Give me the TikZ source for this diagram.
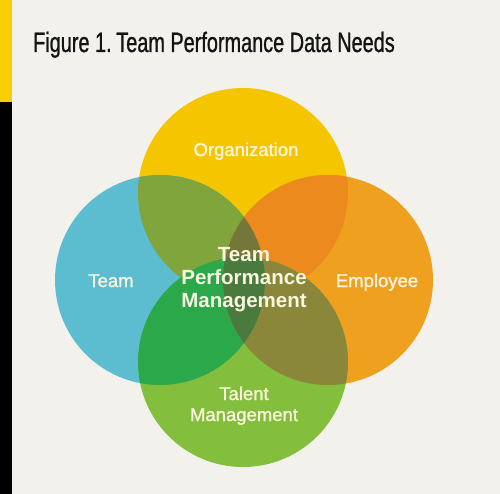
\documentclass[tikz,border=0pt]{standalone}
\usepackage{fontspec}
\setmainfont{Liberation Sans}
\newfontfamily\titlefont[FakeStretch=0.71,FakeBold=0.9]{Liberation Sans}
\newfontfamily\setfont[FakeBold=1.1]{Liberation Sans}
\definecolor{paper}{HTML}{F2F1EC}
\definecolor{baryellow}{HTML}{F7CF00}
\definecolor{orgyellow}{HTML}{F5C600}
\definecolor{teamblue}{HTML}{5DBDD0}
\definecolor{emporange}{HTML}{F0A01F}
\definecolor{talentgreen}{HTML}{84BE3D}
\definecolor{orgteam}{HTML}{80A53C}
\definecolor{orgemp}{HTML}{EC8A1E}
\definecolor{orgteamemp}{HTML}{74763A}
\definecolor{talteam}{HTML}{2AA84A}
\definecolor{talemp}{HTML}{8B873A}
\definecolor{talteamemp}{HTML}{4B7A3E}
\definecolor{setcream}{HTML}{FAF6DF}
\def\vrad{105}
\tikzset{
  setname/.style={text=setcream,font=\setfont\fontsize{18.5}{21}\selectfont,anchor=base,inner sep=0pt},
  corename/.style={text=setcream,font=\bfseries\fontsize{20.5}{23}\selectfont,align=center,anchor=base,inner sep=0pt}
}
\begin{document}
\begin{tikzpicture}[x=1pt,y=-1pt]
  \useasboundingbox (0,0) rectangle (500,494);
  \fill[paper] (0,0) rectangle (500,494);
  % side bar
  \fill[baryellow] (0,0) rectangle (12,102);
  \fill[black] (0,102) rectangle (12,494);
  \node[anchor=base west,inner sep=0pt,text=black!92,font=\titlefont\fontsize{28}{30}\selectfont] (title) at (33,52) {Figure 1.\,Team Performance Data Needs};
  % circle centres
  \coordinate (org) at (243,193);
  \coordinate (team) at (160,280);
  \coordinate (emp) at (328,280);
  \coordinate (tal) at (243,362);
  \fill[orgyellow] (org) circle[radius=\vrad];
  \fill[teamblue] (team) circle[radius=\vrad];
  \fill[emporange] (emp) circle[radius=\vrad];
  % overlaps with the organization circle
  \begin{scope}
    \clip (org) circle[radius=\vrad];
    \fill[orgteam] (team) circle[radius=\vrad];
    \fill[orgemp] (emp) circle[radius=\vrad];
    \clip (team) circle[radius=\vrad];
    \fill[orgteamemp] (emp) circle[radius=\vrad];
  \end{scope}
  \fill[talentgreen] (tal) circle[radius=\vrad];
  % overlaps with the talent circle
  \begin{scope}
    \clip (tal) circle[radius=\vrad];
    \fill[talteam] (team) circle[radius=\vrad];
    \fill[talemp] (emp) circle[radius=\vrad];
    \clip (team) circle[radius=\vrad];
    \fill[talteamemp] (emp) circle[radius=\vrad];
  \end{scope}
  \node[setname] (orgname) at (246,156) {Organization};
  \node[setname] (teamname) at (111,287) {Team};
  \node[setname] (empname) at (377,287) {Employee};
  \node[setname,align=center] (talname) at (244,421) {Talent\\Management};
  \node[corename] (corename) at (244,307) {Team\\Performance\\Management};
\end{tikzpicture}
\end{document}
